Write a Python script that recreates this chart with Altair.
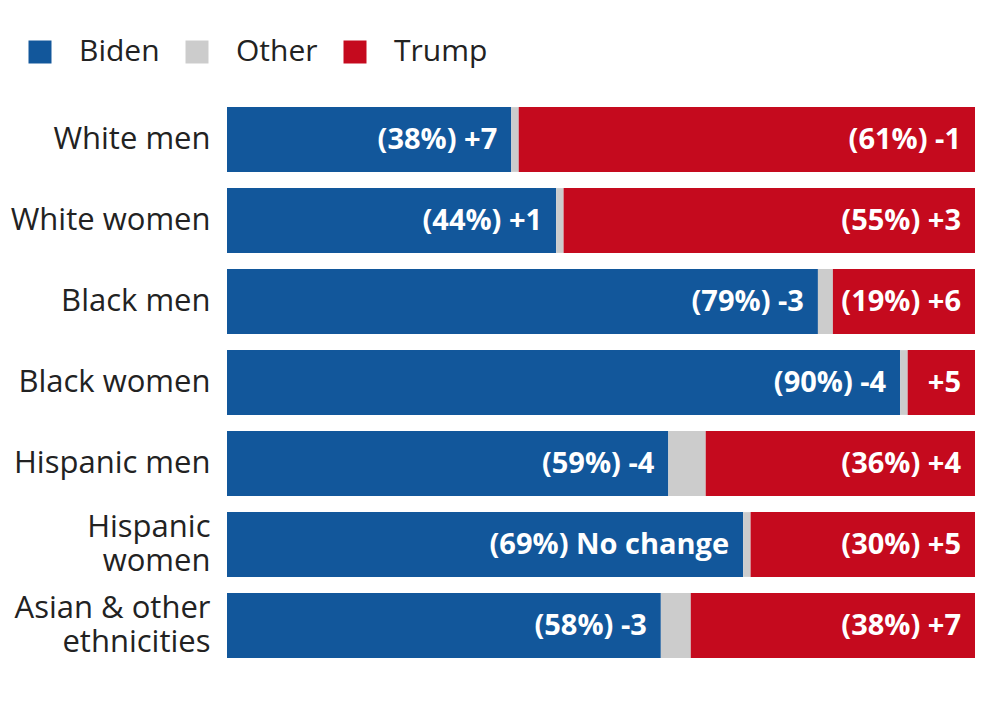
import altair as alt
import pandas as pd

groups = ["White men", "White women", "Black men", "Black women",
          "Hispanic men", "Hispanic women", "Asian & other ethnicities"]
biden = [38, 44, 79, 90, 59, 69, 58]
other = [1, 1, 2, 1, 5, 1, 4]
trump = [61, 55, 19, 9, 36, 30, 38]
biden_labels = ["(38%) +7", "(44%) +1", "(79%) -3", "(90%) -4",
                "(59%) -4", "(69%) No change", "(58%) -3"]
trump_labels = ["(61%) -1", "(55%) +3", "(19%) +6", "+5",
                "(36%) +4", "(30%) +5", "(38%) +7"]

series = ["Biden", "Other", "Trump"]
colors = ["#12579b", "#cccccc", "#c50a1e"]

rows = []
for i, g in enumerate(groups):
    rows.append({"group": g, "series": "Biden", "value": biden[i], "order": 0, "label": biden_labels[i]})
    rows.append({"group": g, "series": "Other", "value": other[i], "order": 1, "label": ""})
    rows.append({"group": g, "series": "Trump", "value": trump[i], "order": 2, "label": trump_labels[i]})
df = pd.DataFrame(rows)

font = "Open Sans"

label_expr = ("datum.label == 'Hispanic women' ? ['Hispanic', 'women'] : "
              "datum.label == 'Asian & other ethnicities' ? ['Asian & other', 'ethnicities'] : datum.label")
two_line_test = "datum.value == 'Hispanic women' || datum.value == 'Asian & other ethnicities'"

y_enc = alt.Y("group:N", sort=groups, title=None,
              scale=alt.Scale(paddingInner=0.2, paddingOuter=0.1),
              axis=alt.Axis(labelExpr=label_expr, labelFontSize=31, labelFont=font,
                            labelColor="#222222", labelPadding=17, ticks=False,
                            domain=False, labelLineHeight=34, labelLimit=300,
                            labelOffset={"condition": {"test": two_line_test, "value": -17},
                                         "value": 0}))

bars = alt.Chart(df).mark_bar().encode(
    x=alt.X("value:Q", stack="zero", scale=alt.Scale(domain=[0, 100], nice=False),
            axis=None),
    y=y_enc,
    color=alt.Color("series:N", sort=series,
                    scale=alt.Scale(domain=series, range=colors),
                    legend=alt.Legend(title=None, orient="none", direction="horizontal",
                                      legendX=-202, legendY=-62,
                                      symbolType="square", symbolSize=529,
                                      symbolStrokeWidth=0, symbolOpacity=1,
                                      labelFontSize=30, labelFont=font,
                                      labelColor="#222222", labelOffset=24,
                                      columnPadding=22)),
    order=alt.Order("order:Q"),
)

text = alt.Chart(df).transform_stack(
    stack="value", groupby=["group"], as_=["x0", "x1"],
    sort=[alt.SortField("order", order="ascending")]
).transform_filter(
    alt.datum.series != "Other"
).mark_text(align="right", baseline="middle", dx=-14, fontSize=29,
            fontWeight="bold", font=font, color="white").encode(
    x=alt.X("x1:Q", scale=alt.Scale(domain=[0, 100], nice=False)),
    y=alt.Y("group:N", sort=groups),
    text="label:N",
)

chart = alt.layer(bars, text).properties(
    width=748, height=567,
    autosize=alt.AutoSizeParams(type="none"),
    padding={"left": 219, "top": 91, "right": 1, "bottom": 10},
).configure(background="white").configure_view(stroke=None)

chart.save("out.html", embed_options={"renderer": "svg", "actions": False})
